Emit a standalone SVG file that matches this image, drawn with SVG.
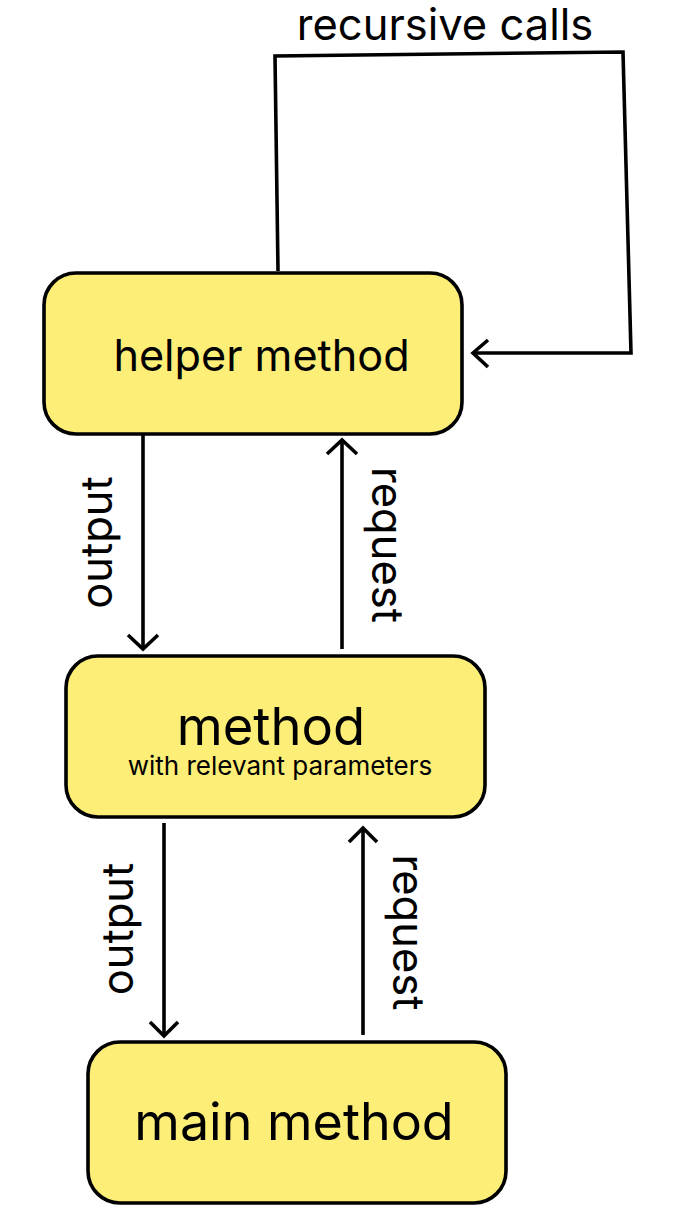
<svg xmlns="http://www.w3.org/2000/svg" width="682" height="1226" viewBox="0 0 682 1226">
<style>
.box{fill:#FCEE77;stroke:#000;stroke-width:3.6}
.ln{fill:none;stroke:#000;stroke-width:3.6;stroke-linejoin:miter}
.hd{fill:none;stroke:#000;stroke-width:3.6;stroke-linecap:butt}
text{font-family:Inter,"Noto Sans","Liberation Sans",sans-serif;fill:#000;text-anchor:middle}
.lbl{font-size:43.5px}
</style>
<rect width="682" height="1226" fill="#fff"/>
<g id="connectors">
  <path class="ln" d="M278,271 L275,56 L623,52 L631,353 L473,353"/>
  <path class="hd" d="M488,340 L473,353 L488,367"/>
  <path class="ln" d="M143,435 L143,649"/>
  <path class="hd" d="M128,635 L143,649 L158,635"/>
  <path class="ln" d="M342,649 L342,440"/>
  <path class="hd" d="M327,454 L342,440 L357,454"/>
  <path class="ln" d="M164,823 L164,1036"/>
  <path class="hd" d="M150,1022 L164,1036 L178,1022"/>
  <path class="ln" d="M363,1035 L363,828"/>
  <path class="hd" d="M349,842 L363,828 L377,842"/>
  <text class="lbl" x="445" y="40">recursive calls</text>
  <text class="lbl" transform="translate(112,542.5) rotate(-90)">output</text>
  <text class="lbl" transform="translate(372,545) rotate(90)">request</text>
  <text class="lbl" transform="translate(133,929) rotate(-90)">output</text>
  <text class="lbl" transform="translate(393,932.5) rotate(90)">request</text>
</g>
<g id="helper">
  <rect class="box" x="44" y="273" width="418" height="161" rx="32"/>
  <text x="261.5" y="371" font-size="43.2">helper method</text>
</g>
<g id="method">
  <rect class="box" x="66" y="656" width="419" height="161" rx="32"/>
  <text x="271" y="745" font-size="52.5">method</text>
  <text x="280" y="775" font-size="26">with relevant parameters</text>
</g>
<g id="main">
  <rect class="box" x="88" y="1042" width="418" height="161" rx="32"/>
  <text x="294" y="1140" font-size="52">main method</text>
</g>
</svg>
